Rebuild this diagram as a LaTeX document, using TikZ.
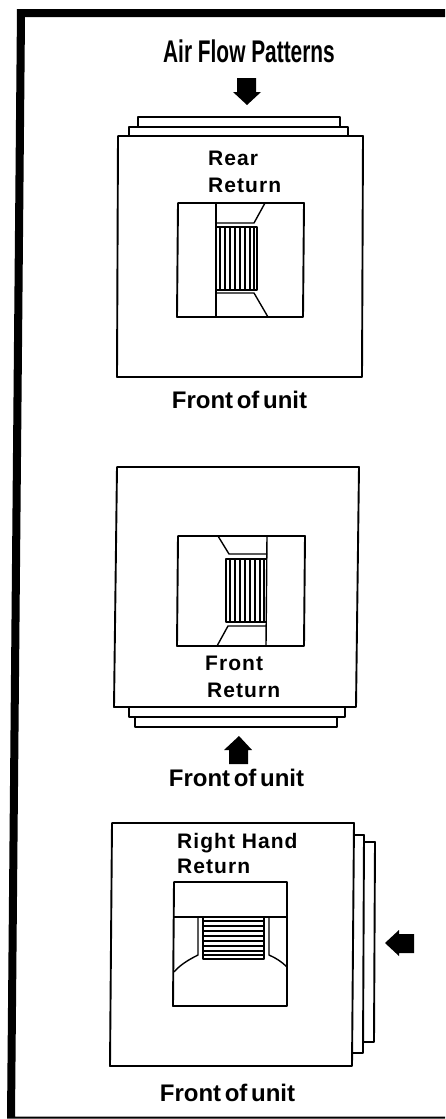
\documentclass[tikz,border=0pt]{standalone}
\usepackage{fontspec}
\usepackage{graphicx}
\setmainfont{Liberation Sans}
\newfontfamily\retfont[LetterSpace=5]{Liberation Sans}
\newfontfamily\unitfont[WordSpace=0.55]{Liberation Sans}
\tikzset{
  unitline/.style={draw=black,line width=1.9pt,line join=round},
  fineline/.style={draw=black,line width=1.4pt,line join=round},
  airarrow/.style={fill=black,draw=none},
  grilleline/.style={draw=black,line width=2.2pt},
  retlabel/.style={anchor=base west,inner sep=0pt,font=\retfont\fontsize{21}{21}\selectfont\bfseries},
  frontlabel/.style={anchor=base,inner sep=0pt,font=\unitfont\fontsize{24}{24}\selectfont\bfseries},
}
\begin{document}
\begin{tikzpicture}[x=1pt,y=-1pt]
\useasboundingbox (0,0) rectangle (445,1119);
\fill[white] (0,0) rectangle (445,1119);
% frame
\fill[black] (17,9) -- (445,9) -- (445,17) -- (25,17) -- (15,1116.5) -- (445,1116.5) -- (445,1118.7) -- (7,1118.7) -- cycle;
% title
\node[anchor=base,inner sep=0pt] (title) at (249,62) {\scalebox{.72}[1.08]{\fontsize{29}{29}\selectfont\bfseries Air Flow Patterns}};
% ---------- Rear return
\fill[airarrow] (237,78) -- (256,78) -- (256,92) -- (261,92) -- (247,105) -- (233,92) -- (237,92) -- cycle;
\draw[unitline] (138,127) -- (138,117) -- (340,117) -- (340,127);
\draw[unitline] (129,136) -- (129,127) -- (348,127) -- (348,136);
\draw[unitline] (118,136) -- (363,136) -- (362,377) -- (117,377) -- cycle;
\draw[unitline] (178,203) -- (304,203) -- (303,317) -- (177,317) -- cycle;
\draw[fineline] (216,203) -- (216,317);
\draw[fineline] (216,223) -- (254,223) -- (265,203);
\draw[fineline] (216,293) -- (254,293) -- (268,317);
\draw[fineline] (216,227) -- (257,227) -- (257,290) -- (216,290);
\foreach \gx in {220,225,230,235,240,245,250,254}{\draw[grilleline] (\gx,227) -- (\gx,290);}
\node[retlabel] (rear) at (208,165) {Rear};
\node[retlabel] (rearret) at (208,192) {Return};
\node[frontlabel] (front1) at (239.5,408) {Front of unit};
% ---------- Front return
\draw[unitline] (117,467) -- (359,467) -- (356,707) -- (114,707) -- cycle;
\draw[unitline] (129,707) -- (129,717) -- (345,717) -- (345,707);
\draw[unitline] (135,717) -- (135,727) -- (337,727) -- (337,717);
\draw[unitline] (178,536) -- (305,536) -- (304,646) -- (177,646) -- cycle;
\draw[fineline] (267,536) -- (266,646);
\draw[fineline] (218,536) -- (229,554) -- (267,554);
\draw[fineline] (217,646) -- (228,626) -- (266,626);
\draw[fineline] (267,559) -- (226,559) -- (226,622) -- (267,622);
\foreach \gx in {230,235,240,245,250,255,260,264}{\draw[grilleline] (\gx,559) -- (\gx,622);}
\node[retlabel] (front) at (205,670) {Front};
\node[retlabel] (frontret) at (207,697) {Return};
\fill[airarrow] (239,736) -- (252,750) -- (248,750) -- (248,764) -- (229,764) -- (229,750) -- (224,750) -- cycle;
\node[frontlabel] (front2) at (236.5,786) {Front of unit};
% ---------- Right hand return
\draw[unitline] (112,823) -- (354,823) -- (352,1066) -- (110,1066) -- cycle;
\draw[unitline] (353,835) -- (364,835) -- (363,1053) -- (352,1053);
\draw[unitline] (364,842) -- (375,842) -- (374,1042) -- (363,1042);
\draw[unitline] (174,882) -- (287,882) -- (287,1006) -- (173,1006) -- cycle;
\draw[fineline] (174,917) -- (287,917);
\draw[fineline] (198,917) -- (198,955) .. controls (188,960) and (180,965) .. (174,972);
\draw[fineline] (269,917) -- (269,955) .. controls (276,958) and (282,962) .. (287,967);
\draw[fineline] (203,917) -- (203,959) -- (264,959) -- (264,917);
\foreach \gy in {921,926,931,936,941,946,951,955}{\draw[grilleline] (203,\gy) -- (264,\gy);}
\node[retlabel] (rh) at (177,848) {Right Hand};
\node[retlabel] (rhret) at (177,873) {Return};
\fill[airarrow] (385,943) -- (399,930) -- (399,934) -- (414,934) -- (414,953) -- (399,953) -- (399,956) -- cycle;
\node[frontlabel] (front3) at (227.5,1101) {Front of unit};
\end{tikzpicture}
\end{document}
